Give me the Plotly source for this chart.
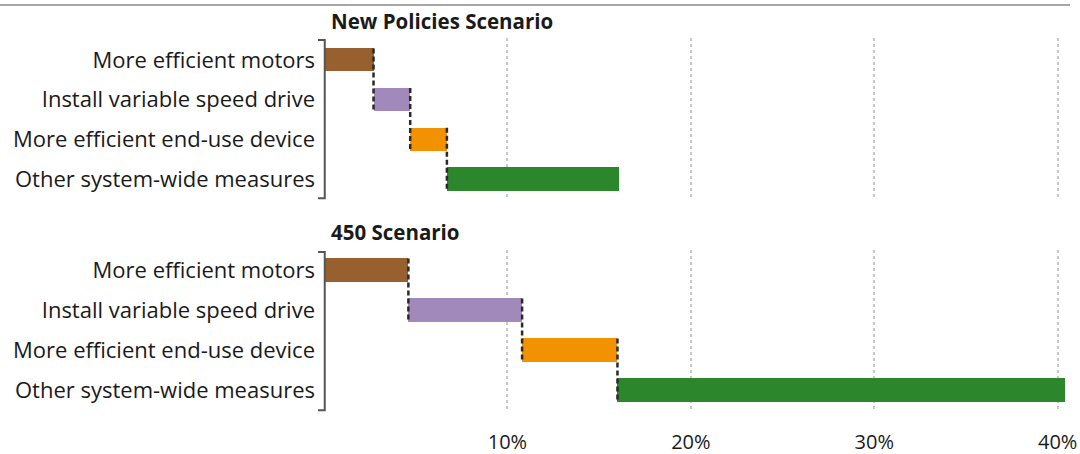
import plotly.graph_objects as go

categories = ["More efficient motors", "Install variable speed drive",
              "More efficient end-use device", "Other system-wide measures"]
colors = ["#98602F", "#A289BC", "#F29200", "#2C862C"]
nps_values = [2.7, 2.0, 2.0, 9.4]
s450_values = [4.6, 6.2, 5.2, 24.4]
panel_titles = ["New Policies Scenario", "450 Scenario"]
xticks = [10, 20, 30, 40]
xticklabels = ["10%", "20%", "30%", "40%"]

BAR_W = 0.58
FONT = "Open Sans"

fig = go.Figure()

def add_panel(values, yref):
    bases = []
    acc = 0
    for v in values:
        bases.append(acc)
        acc += v
    rows = list(range(len(values)))
    fig.add_trace(go.Bar(
        y=rows, x=values, base=bases, orientation="h", width=BAR_W,
        marker=dict(color=colors, line=dict(width=0)),
        yaxis=yref, xaxis="x", showlegend=False, hoverinfo="skip"))
    # dashed connectors
    cx, cy = [], []
    for k in range(len(values) - 1):
        xb = bases[k] + values[k]
        cx += [xb, xb, None]
        cy += [k - BAR_W / 2, k + 1 + BAR_W / 2, None]
    fig.add_trace(go.Scatter(
        x=cx, y=cy, mode="lines", yaxis=yref, xaxis="x",
        line=dict(color="#2a2a2a", width=2.5, dash="5px,3px"),
        showlegend=False, hoverinfo="skip"))

add_panel(nps_values, "y")
add_panel(s450_values, "y2")

top_dom = [0.557, 0.979]
bot_dom = [0.005, 0.427]

yaxis_common = dict(
    tickmode="array", tickvals=list(range(len(categories))), ticktext=categories,
    showgrid=False, zeroline=False, showline=False, ticks="",
    ticklabelstandoff=8, automargin=False,
    tickfont=dict(family=FONT, size=22, color="#1a1a1a"),
)

fig.update_layout(
    width=1080, height=454,
    margin=dict(l=324, r=4, t=30, b=40),
    paper_bgcolor="white", plot_bgcolor="white",
    bargap=0,
    xaxis=dict(range=[0, 41], tickvals=xticks, ticktext=xticklabels,
               showgrid=True, gridcolor="#c8c8c8", griddash="dot", gridwidth=2,
               zeroline=False, showline=False, ticks="",
               ticklabelstandoff=16, automargin=False,
               tickfont=dict(family=FONT, size=20, color="#1a1a1a"),
               anchor="y2"),
    yaxis=dict(domain=top_dom, range=[3.53, -0.55], **yaxis_common),
    yaxis2=dict(domain=bot_dom, range=[3.55, -0.5], **yaxis_common),
    xaxis3=dict(range=[0, 41], tickvals=xticks, showticklabels=False,
                showgrid=True, gridcolor="#c8c8c8", griddash="dot", gridwidth=2,
                zeroline=False, showline=False, ticks="", anchor="y",
                overlaying="x", automargin=False),
)
fig.add_trace(go.Scatter(x=[None], y=[None], xaxis="x3", yaxis="y",
                         showlegend=False, hoverinfo="skip"))

# panel titles
for title, dom in zip(panel_titles, [top_dom, bot_dom]):
    fig.add_annotation(text="<b>" + title + "</b>", xref="paper", yref="paper",
                       x=0.006, y=dom[1] + 0.004, xanchor="left", yanchor="bottom",
                       showarrow=False,
                       font=dict(family=FONT, size=20.5, color="#1a1a1a"))

# left brackets
stub = 6 / 752
for dom in [top_dom, bot_dom]:
    y0 = dom[0] + 0.005
    y1 = dom[1] - 0.005
    fig.add_shape(type="path", xref="paper", yref="paper",
                  path=f"M {-stub} {y1} L 0.001 {y1} L 0.001 {y0} L {-stub} {y0}",
                  line=dict(color="#555555", width=2))

# top rule from cropped slide
fig.add_shape(type="line", xref="paper", yref="paper",
              x0=-324 / 752, x1=(1070 - 324) / 752, y0=1 + 25 / 384, y1=1 + 25 / 384,
              line=dict(color="#888888", width=1.5))

fig.write_html("out.html")
